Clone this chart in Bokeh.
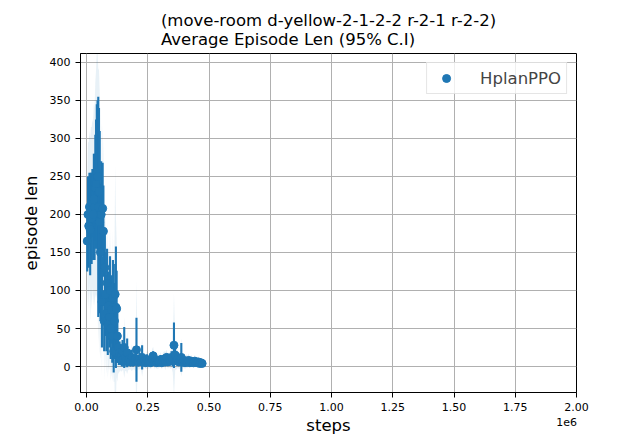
from bokeh.plotting import figure
from bokeh.models import Range1d, FixedTicker, Legend, LegendItem, LinearAxis
from bokeh.embed import file_html
from bokeh.resources import INLINE

steps = [3000, 6000, 9000, 12000, 15000, 18000, 21000, 24000, 27000, 30000,
         33000, 36000, 39000, 42000, 45000, 48000, 51000, 54000, 57000, 60000,
         63000, 66000, 69000, 72000, 75000, 78000, 81000, 84000, 87000, 90000,
         93000, 96000, 99000, 102000, 105000, 108000, 111000, 114000, 117000, 120000,
         123000, 126000, 129000, 132000, 135000, 138000, 141000, 144000, 147000, 150000,
         154000, 158000, 162000, 166000, 170000, 175000, 180000, 185000, 190000, 195000,
         200000, 204000, 208000, 212000, 217000, 222000, 227000, 232000, 237000, 242000,
         247000, 252000, 257000, 262000, 267000, 272000, 277000, 282000, 287000, 292000,
         297000, 302000, 307000, 312000, 317000, 322000, 327000, 332000, 337000, 342000,
         347000, 352000, 357000, 362000, 367000, 372000, 377000, 382000, 387000, 392000,
         397000, 402000, 407000, 412000, 417000, 422000, 427000, 432000, 437000, 442000,
         447000, 452000, 457000, 462000, 467000, 472000]

mean_len = [165, 200, 185, 210, 180, 205, 195, 215, 200, 220,
            210, 235, 240, 255, 250, 210, 230, 190, 150, 200,
            85, 208, 178, 60, 130, 95, 70, 110, 55, 80,
            65, 100, 50, 75, 40, 90, 20, 60, 95, 78,
            76, 40, 25, 12, 18, 10, 15, 8, 20, 10,
            25, 12, 8, 18, 7, 10, 6, 12, 6, 8,
            10, 22, 8, 6, 10, 7, 12, 6, 8, 5,
            9, 6, 8, 5, 10, 14, 6, 8, 5, 7,
            6, 9, 5, 8, 10, 7, 12, 6, 9, 7,
            12, 10, 28, 15, 8, 10, 6, 9, 12, 6,
            8, 5, 7, 6, 8, 5, 7, 6, 5, 7,
            6, 5, 6, 4, 5, 4]

ci_half = [40, 50, 55, 45, 60, 50, 60, 45, 60, 60,
           70, 70, 85, 90, 100, 145, 110, 120, 90, 70,
           60, 60, 60, 40, 50, 55, 50, 45, 40, 45,
           40, 45, 40, 45, 35, 50, 28, 50, 40, 80,
           50, 35, 20, 10, 15, 8, 12, 8, 15, 10,
           27, 10, 8, 19, 6, 8, 6, 10, 6, 7,
           8, 42, 7, 6, 8, 6, 16, 5, 6, 5,
           7, 5, 6, 5, 7, 6, 5, 6, 4, 6,
           5, 6, 5, 6, 5, 7, 5, 5, 6, 5,
           8, 10, 30, 10, 6, 7, 5, 7, 19, 5,
           6, 5, 5, 5, 5, 4, 5, 4, 4, 5,
           4, 4, 4, 4, 4, 3]

band_half = [85, 95, 110, 100, 120, 110, 120, 110, 120, 125,
             130, 140, 150, 160, 165, 182, 160, 170, 140, 120,
             100, 110, 100, 80, 90, 90, 80, 80, 70, 80,
             70, 80, 70, 80, 60, 90, 40, 80, 170, 120,
             90, 60, 35, 20, 25, 15, 22, 14, 25, 15,
             40, 18, 14, 28, 12, 14, 10, 18, 10, 12,
             16, 91, 12, 10, 14, 10, 25, 9, 10, 8,
             12, 9, 10, 8, 12, 12, 9, 10, 8, 10,
             8, 10, 8, 10, 10, 12, 10, 9, 10, 10,
             14, 18, 68, 20, 12, 12, 9, 12, 25, 9,
             10, 8, 9, 8, 9, 7, 8, 7, 7, 8,
             7, 7, 7, 6, 6, 5]

x_ticks = [0, 250000, 500000, 750000, 1000000, 1250000, 1500000, 1750000, 2000000]
x_tick_labels = ["0.00", "0.25", "0.50", "0.75", "1.00", "1.25", "1.50", "1.75", "2.00"]
y_ticks = [0, 50, 100, 150, 200, 250, 300, 350, 400]
offset_text = "1e6"
offset_pos = 1960000

series_name = "HplanPPO"
title_text = "(move-room d-yellow-2-1-2-2 r-2-1 r-2-2)\nAverage Episode Len (95% C.I)"

C = "#1f77b4"
FONT = "DejaVu Sans"
X0, X1 = -24500, 2000000
Y0, Y1 = -34.2, 411.8

err_lo = [m - c for m, c in zip(mean_len, ci_half)]
err_hi = [m + c for m, c in zip(mean_len, ci_half)]
band_lo = [m - b for m, b in zip(mean_len, band_half)]
band_hi = [m + b for m, b in zip(mean_len, band_half)]

p = figure(width=640, height=440, output_backend="svg", toolbar_location=None,
           x_range=Range1d(X0, X1), y_range=Range1d(Y0, Y1),
           min_border_left=80, min_border_right=64, min_border_top=53,
           min_border_bottom=48)
p.background_fill_color = "white"
p.border_fill_color = "white"
p.outline_line_color = "black"
p.outline_line_width = 1

p.title.text = title_text
p.title.align = "center"
p.title.text_font = FONT
p.title.text_font_size = "16.5px"
p.title.text_font_style = "normal"
p.title.text_color = "black"

p.varea(x=steps, y1=band_lo, y2=band_hi, fill_color=C, fill_alpha=0.1)
p.segment(x0=steps, y0=err_lo, x1=steps, y1=err_hi, line_color=C, line_width=2.1)
r_pts = p.scatter(x=steps, y=mean_len, size=8, fill_color=C, line_color=C)

legend = Legend(items=[LegendItem(label=series_name, renderers=[r_pts])],
                location="top_right", margin=9, padding=5,
                glyph_width=28, glyph_height=20, label_height=20,
                label_standoff=20, spacing=0,
                label_text_font=FONT, label_text_font_size="16.5px",
                border_line_color="#cccccc", border_line_width=1,
                background_fill_color="white", background_fill_alpha=0.8)
p.add_layout(legend)

xax = p.xaxis[0]
yax = p.yaxis[0]
xax.ticker = FixedTicker(ticks=x_ticks)
xax.major_label_overrides = {t: s for t, s in zip(x_ticks, x_tick_labels)}
yax.ticker = FixedTicker(ticks=y_ticks)
p.xgrid.ticker = FixedTicker(ticks=x_ticks)
p.ygrid.ticker = FixedTicker(ticks=y_ticks)
for g in (p.xgrid, p.ygrid):
    g.grid_line_color = "#b0b0b0"
    g.grid_line_width = 1

for ax in (xax, yax):
    ax.axis_line_color = "black"
    ax.major_tick_line_color = "black"
    ax.major_tick_in = 0
    ax.major_tick_out = 5
    ax.minor_tick_line_color = None
    ax.major_label_text_font = FONT
    ax.major_label_text_font_size = "11px"
    ax.major_label_text_color = "black"
    ax.axis_label_text_font = FONT
    ax.axis_label_text_font_size = "16.5px"
    ax.axis_label_text_font_style = "normal"
    ax.axis_label_text_color = "black"
    ax.major_label_standoff = 5
    ax.axis_label_standoff = 6

yax.axis_label = "episode len"

# second (label-only) bottom axis: offset text "1e6" and the axis title
ax2 = LinearAxis(ticker=FixedTicker(ticks=[offset_pos]),
                 major_label_overrides={offset_pos: offset_text},
                 axis_line_color=None, major_tick_line_color=None,
                 minor_tick_line_color=None, major_tick_in=0, major_tick_out=0,
                 major_label_standoff=4,
                 major_label_text_font=FONT, major_label_text_font_size="11px",
                 major_label_text_color="black",
                 axis_label="steps", axis_label_standoff=-13,
                 axis_label_text_font=FONT, axis_label_text_font_size="16.5px",
                 axis_label_text_font_style="normal", axis_label_text_color="black")
p.add_layout(ax2, "below")

open("out.html", "w").write(file_html(p, INLINE))
